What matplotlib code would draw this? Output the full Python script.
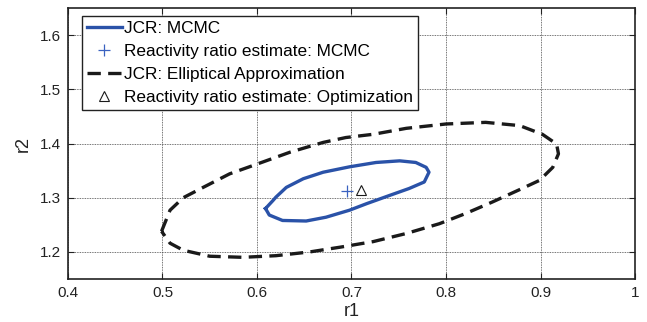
import matplotlib
matplotlib.use("Agg")
import matplotlib.pyplot as plt

plt.rcParams['font.family'] = ['Liberation Sans', 'DejaVu Sans']

# JCR MCMC contour (r1, r2)
mcmc_r1 = [0.609, 0.617, 0.620, 0.631, 0.649, 0.670, 0.698, 0.726, 0.751, 0.768,
           0.779, 0.782, 0.777, 0.761, 0.740, 0.716, 0.698, 0.673, 0.652, 0.627,
           0.613, 0.609]
mcmc_r2 = [1.280, 1.295, 1.301, 1.319, 1.335, 1.347, 1.357, 1.365, 1.368, 1.365,
           1.356, 1.347, 1.329, 1.317, 1.304, 1.289, 1.277, 1.264, 1.257, 1.258,
           1.268, 1.280]

# JCR elliptical approximation (r1, r2)
ell_r1 = [0.499, 0.508, 0.522, 0.543, 0.571, 0.600, 0.635, 0.670, 0.694, 0.723,
          0.758, 0.800, 0.842, 0.878, 0.902, 0.917, 0.919, 0.913, 0.899, 0.878,
          0.849, 0.821, 0.793, 0.758, 0.723, 0.689, 0.656, 0.620, 0.585, 0.550,
          0.522, 0.508, 0.499]
ell_r2 = [1.238, 1.277, 1.300, 1.319, 1.344, 1.362, 1.384, 1.402, 1.411, 1.417,
          1.428, 1.436, 1.439, 1.433, 1.417, 1.399, 1.381, 1.356, 1.332, 1.315,
          1.292, 1.271, 1.252, 1.234, 1.219, 1.209, 1.200, 1.193, 1.190, 1.192,
          1.203, 1.216, 1.238]

# Point estimates
mcmc_est = (0.695, 1.312)
opt_est = (0.710, 1.315)

xticks = [0.4, 0.5, 0.6, 0.7, 0.8, 0.9, 1.0]
xticklabels = ['0.4', '0.5', '0.6', '0.7', '0.8', '0.9', '1']
yticks = [1.2, 1.3, 1.4, 1.5, 1.6]
yticklabels = ['1.2', '1.3', '1.4', '1.5', '1.6']

blue = '#2A52A8'
dark = '#1a1a1a'

fig = plt.figure(figsize=(6.47, 3.22), dpi=100)
ax = fig.add_axes([68/647, 1 - 279/322, (635-68)/647, (279-8)/322])

ax.plot(mcmc_r1, mcmc_r2, color=blue, lw=2.4, label='JCR: MCMC', zorder=3)
ax.plot([mcmc_est[0]], [mcmc_est[1]], linestyle='none', marker='+', color='#3a62c0',
        markeredgecolor='#3a62c0', markersize=9, markeredgewidth=0.9,
        label='Reactivity ratio estimate: MCMC', zorder=4)
ax.plot(ell_r1, ell_r2, color=dark, lw=2.4, dashes=(4.0, 2.2),
        label='JCR: Elliptical Approximation', zorder=3)
ax.plot([opt_est[0]], [opt_est[1]], linestyle='none', marker='^', markerfacecolor='none',
        markeredgecolor=dark, markersize=7.5, markeredgewidth=0.8,
        label='Reactivity ratio estimate: Optimization', zorder=4)

ax.set_xlim(0.4, 1.0)
ax.set_ylim(1.15, 1.65)
ax.set_xticks(xticks)
ax.set_xticklabels(xticklabels)
ax.set_yticks(yticks)
ax.set_yticklabels(yticklabels)
ax.tick_params(direction='in', top=True, right=True, labelsize=11, colors='#222222',
               length=4, width=0.8, pad=5)
ax.grid(True, color='#444444', linestyle=(0, (1, 1)), linewidth=0.6)
for s in ax.spines.values():
    s.set_linewidth(1.2)
    s.set_color('#222222')

ax.set_xlabel('r1', fontsize=13, labelpad=2, color='#222222')
ax.set_ylabel('r2', fontsize=13, labelpad=6, color='#222222')

leg = ax.legend(loc='upper left', bbox_to_anchor=(14/567, 1 - 8/271), fontsize=12.4,
                frameon=True, fancybox=False, edgecolor='#222222', framealpha=1,
                borderpad=0.3, labelspacing=0.45, handlelength=2.0,
                handletextpad=0.15, borderaxespad=0)
leg.get_frame().set_linewidth(1.0)

fig.savefig('out.png', dpi=100)
